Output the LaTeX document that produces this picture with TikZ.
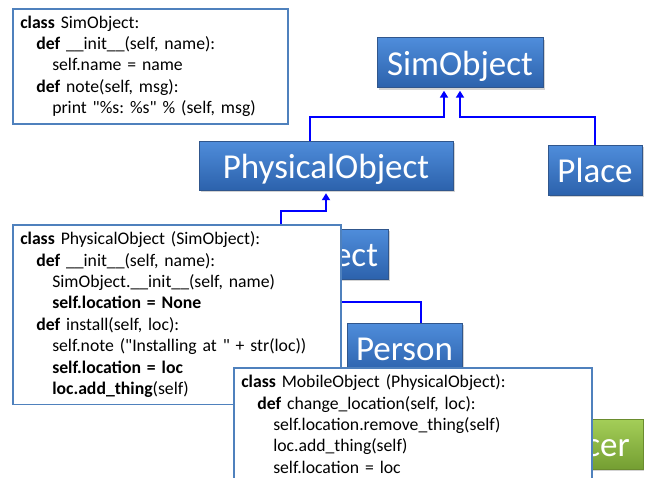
\documentclass[tikz,border=0pt]{standalone}
\usepackage{fontspec}
\setmainfont{Carlito}[Ligatures=TeXOff]
\usepackage{tikz}
\usetikzlibrary{calc}
\usetikzlibrary{arrows.meta}
\usetikzlibrary{shadows}
\definecolor{classtop}{RGB}{79, 141, 219}
\definecolor{classbottom}{RGB}{44, 98, 172}
\definecolor{classedge}{RGB}{48, 86, 140}
\definecolor{leaftop}{RGB}{164, 206, 88}
\definecolor{leafbottom}{RGB}{116, 158, 50}
\definecolor{leafedge}{RGB}{106, 140, 46}
\definecolor{codeedge}{RGB}{79, 129, 189}
\definecolor{isablue}{RGB}{0, 0, 255}

\tikzset{
  classbox/.style={draw=classedge, top color=classtop, bottom color=classbottom, text=white,
                   inner sep=0pt, text height=25pt, text depth=0pt, minimum height=50pt,
                   font=\fontsize{35}{42}\selectfont,
                   drop shadow={shadow xshift=1.5pt, shadow yshift=-2pt, opacity=0.35}},
  leafbox/.style={classbox, draw=leafedge, top color=leaftop, bottom color=leafbottom},
  codebox/.style={draw=codeedge, line width=1.5pt, fill=white, anchor=north west, align=left,
                  inner xsep=7.5pt, inner ysep=7pt, font=\fontsize{17.7}{21.4}\selectfont\frenchspacing},
  isa/.style={isablue, line width=2.6pt, -{Triangle[width=8pt,length=7pt]}, shorten >=3pt}
}
\newcommand{\ind}{\hspace*{16pt}}

\begin{document}
\begin{tikzpicture}[x=1pt, y=-1pt]
    \useasboundingbox (0,0) rectangle (652,477);
    % class hierarchy
    \node[classbox, minimum width=166pt]                      (simobject) at (460,62.5)  {SimObject};
    \node[classbox, minimum width=254pt, minimum height=49pt] (physical)  at (326,165.5) {PhysicalObject};
    \node[classbox, minimum width=94pt]                       (place)     at (595,170)   {Place};
    \node[classbox, minimum width=214pt]                      (mobile)    at (281,254)   {MobileObject};
    \node[classbox, minimum width=115pt]                      (person)    at (404.5,348) {Person};
    \node[leafbox, anchor=north east, inner xsep=13pt]        (officer)   at (643,419)   {PoliceOfficer};
    \draw[isa] ([xshift=-16pt]physical.north) -- ++(0,-24) -| ([xshift=-16pt]simobject.south);
    \draw[isa] (place.north)                  -- ++(0,-28) -| (simobject.south);
    \draw[isa] (mobile.north)                 -- ++(0,-18) -| (physical.south);
    \draw[isa] ([xshift=16.5pt]person.north)  -- ++(0,-21) -| (mobile.south);
    % code listings
    \node[codebox, text width=260pt] (simcode) at (12,8) {%
        \textbf{class} SimObject:\\
        \ind\textbf{def} \_\_init\_\_(self, name):\\
        \ind\ind self.name = name\\
        \ind\textbf{def} note(self, msg):\\
        \ind\ind print "\%s: \%s" \% (self, msg)};
    \node[codebox, text width=313pt] (physcode) at (12,224) {%
        \textbf{class} PhysicalObject (SimObject):\\
        \ind\textbf{def} \_\_init\_\_(self, name):\\
        \ind\ind SimObject.\_\_init\_\_(self, name)\\
        \ind\ind\textbf{self.location = None}\\
        \ind\textbf{def} install(self, loc):\\
        \ind\ind self.note ("Installing at " + str(loc))\\
        \ind\ind\textbf{self.location = loc}\\
        \ind\ind\textbf{loc.add\_thing}(self)};
    \node[codebox, text width=343pt] (mobilecode) at (233,367) {%
        \textbf{class} MobileObject (PhysicalObject):\\
        \ind\textbf{def} change\_location(self, loc):\\
        \ind\ind self.location.remove\_thing(self)\\
        \ind\ind loc.add\_thing(self)\\
        \ind\ind self.location = loc};
\end{tikzpicture}
\end{document}
